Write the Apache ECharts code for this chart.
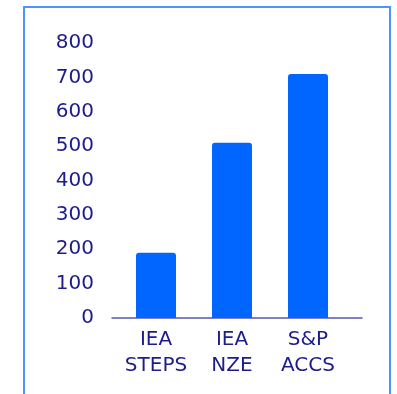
<!DOCTYPE html>
<html>
<head>
<meta charset="utf-8">
<script src="https://cdn.jsdelivr.net/npm/echarts@6/dist/echarts.min.js"></script>
<style>
  html, body { margin: 0; padding: 0; background: #ffffff; }
  #frame { position: absolute; left: 23px; top: 6px; width: 364px; height: 400px;
           border-left: 2px solid #4d94ff; border-top: 2px solid #4d94ff; border-right: 2px solid #4d94ff; }
  #chart { position: absolute; left: 0; top: 0; width: 397px; height: 394px; }
</style>
</head>
<body>
<div id="frame"></div>
<div id="chart"></div>
<script>
const categories = ['IEA\nSTEPS', 'IEA\nNZE', 'S&P\nACCS'];
const values = [190, 510, 710];
const yTicks = { min: 0, max: 800, interval: 100 };

const textColor = '#1c1c8c';
const fontFamily = 'DejaVu Sans';

const chart = echarts.init(document.getElementById('chart'), null, { renderer: 'canvas' });
chart.setOption({
  animation: false,
  grid: [
    { left: 118, right: 51, top: 43, bottom: 76 },
    { left: 112, right: 35, top: 43, bottom: 76 }
  ],
  xAxis: [
    {
      type: 'category', gridIndex: 0, data: categories,
      axisLine: { show: false }, axisTick: { show: false },
      axisLabel: { color: textColor, fontSize: 20, fontFamily: fontFamily, lineHeight: 26, margin: 9, interval: 0 }
    },
    {
      type: 'category', gridIndex: 1, data: categories,
      axisLine: { show: true, lineStyle: { color: '#5656b2', width: 1.5 } },
      axisTick: { show: false }, axisLabel: { show: false }
    }
  ],
  yAxis: [
    {
      type: 'value', gridIndex: 0, min: yTicks.min, max: yTicks.max, interval: yTicks.interval,
      splitLine: { show: false }, axisLine: { show: false }, axisTick: { show: false },
      axisLabel: { color: textColor, fontSize: 20, fontFamily: fontFamily, margin: 24 }
    },
    {
      type: 'value', gridIndex: 1, min: yTicks.min, max: yTicks.max, show: false,
      splitLine: { show: false }
    }
  ],
  series: [
    {
      type: 'bar', xAxisIndex: 0, yAxisIndex: 0, data: values,
      barWidth: 40,
      itemStyle: { color: '#0066ff', borderRadius: [3, 3, 0, 0] }
    }
  ]
});
</script>
</body>
</html>
